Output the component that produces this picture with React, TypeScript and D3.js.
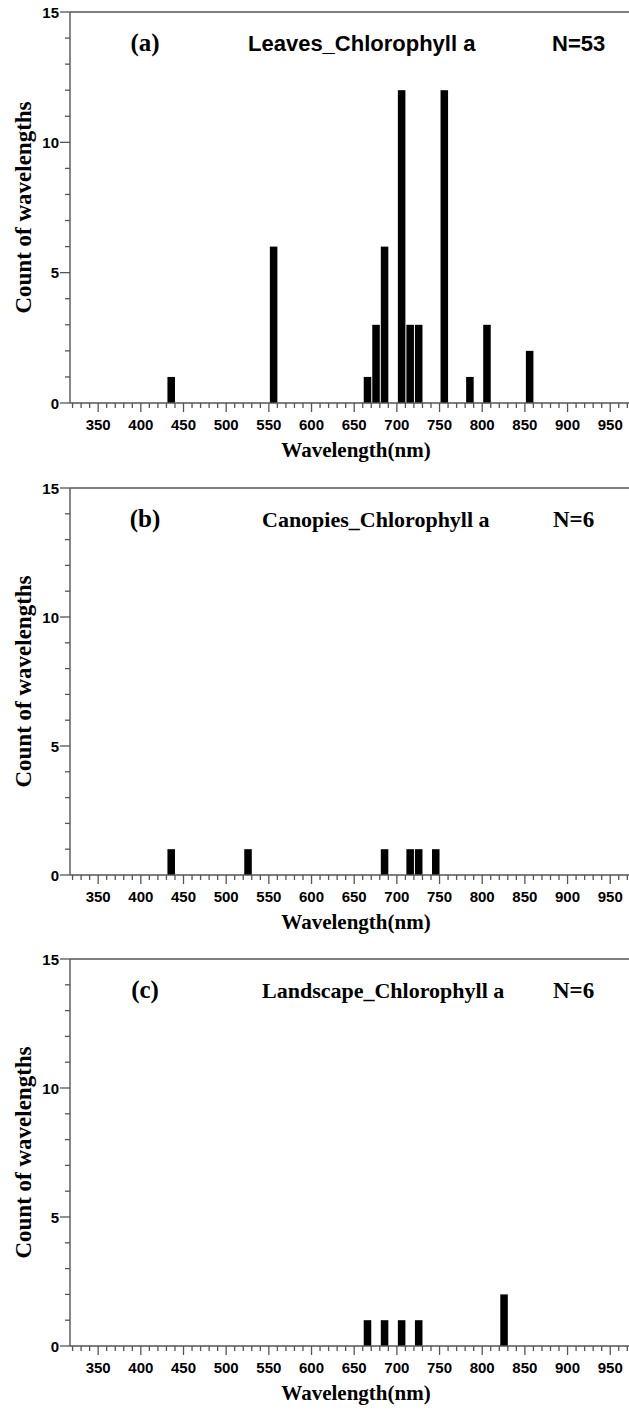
import React from "react";
import * as d3 from "d3";

// Bin start wavelengths (nm) and counts, 10 nm bins
const leavesBins = [430, 550, 660, 670, 680, 700, 710, 720, 750, 780, 800, 850];
const leavesCounts = [1, 6, 1, 3, 6, 12, 3, 3, 12, 1, 3, 2];
const canopiesBins = [430, 520, 680, 710, 720, 740];
const canopiesCounts = [1, 1, 1, 1, 1, 1];
const landscapeBins = [660, 680, 700, 720, 820];
const landscapeCounts = [1, 1, 1, 1, 2];

const xTickLabels = [350, 400, 450, 500, 550, 600, 650, 700, 750, 800, 850, 900, 950];
const yTickLabels = [0, 5, 10, 15];
const panelLetters = ["(a)", "(b)", "(c)"];
const panelTitles = ["Leaves_Chlorophyll a", "Canopies_Chlorophyll a", "Landscape_Chlorophyll a"];
const panelN = ["N=53", "N=6", "N=6"];

const W = 629;
const H = 1410;
const LEFT = 70;
const RIGHT = 629;
const BIN = 10;

const panels = [
  { bins: leavesBins, counts: leavesCounts, top: 12, bottom: 403, sansTitle: true },
  { bins: canopiesBins, counts: canopiesCounts, top: 488, bottom: 875, sansTitle: false },
  { bins: landscapeBins, counts: landscapeCounts, top: 959, bottom: 1346, sansTitle: false },
];

const SANS = "'Liberation Sans', Arial, sans-serif";
const SERIF = "'Liberation Serif', 'Times New Roman', serif";
const AXIS = "#555";

const x = d3.scaleLinear().domain([317, 972]).range([LEFT, RIGHT]);
const minorX = d3.range(320, 972, 10);
const minorY = d3.range(0, 16, 1);

function Panel({ idx }: { idx: number }) {
  const p = panels[idx];
  const y = d3.scaleLinear().domain([0, 15]).range([p.bottom, p.top]);
  const titleY = p.top + 39;
  return (
    <g>
      {/* bars */}
      {p.bins.map((b, i) => (
        <rect
          key={"bar" + i}
          x={x(b) + 1}
          y={y(p.counts[i])}
          width={x(b + BIN) - x(b) - 1}
          height={y(0) - y(p.counts[i])}
          fill="#000"
        />
      ))}
      {/* top border */}
      <line x1={LEFT} x2={RIGHT} y1={y(15)} y2={y(15)} stroke={AXIS} strokeWidth={1.4} />
      {/* y axis */}
      <line x1={LEFT} x2={LEFT} y1={y(0)} y2={y(15)} stroke={AXIS} strokeWidth={1.4} />
      {minorY.map((v) => {
        const major = v % 5 === 0;
        return (
          <line
            key={"yt" + v}
            x1={LEFT - (major ? 10 : 5)}
            x2={LEFT}
            y1={y(v)}
            y2={y(v)}
            stroke={AXIS}
            strokeWidth={1.3}
          />
        );
      })}
      {yTickLabels.map((v) => (
        <text
          key={"yl" + v}
          x={LEFT - 11}
          y={y(v) + 5.5}
          textAnchor="end"
          fontFamily={SANS}
          fontWeight="bold"
          fontSize={15}
          fill="#000"
        >
          {v}
        </text>
      ))}
      {/* x axis */}
      <line x1={LEFT} x2={RIGHT} y1={y(0)} y2={y(0)} stroke={AXIS} strokeWidth={1.4} />
      {minorX.map((v) => {
        const major = v % 50 === 0;
        return (
          <line
            key={"xt" + v}
            x1={x(v)}
            x2={x(v)}
            y1={y(0)}
            y2={y(0) + (major ? 9 : 5)}
            stroke={AXIS}
            strokeWidth={1.3}
          />
        );
      })}
      {xTickLabels.map((v) => (
        <text
          key={"xl" + v}
          x={x(v)}
          y={y(0) + 27}
          textAnchor="middle"
          fontFamily={SANS}
          fontWeight="bold"
          fontSize={15}
          fill="#000"
        >
          {v}
        </text>
      ))}
      <text
        x={356}
        y={y(0) + 54}
        textAnchor="middle"
        fontFamily={SERIF}
        fontWeight="bold"
        fontSize={21}
        fill="#000"
      >
        Wavelength(nm)
      </text>
      {/* y title */}
      <text
        transform={`translate(31,${(p.top + p.bottom) / 2}) rotate(-90)`}
        textAnchor="middle"
        fontFamily={SERIF}
        fontWeight="bold"
        fontSize={23}
        fill="#000"
      >
        Count of wavelengths
      </text>
      {/* panel titles */}
      <text x={145} y={titleY} textAnchor="middle" fontFamily={SERIF} fontWeight="bold" fontSize={25} fill="#000">
        {panelLetters[idx]}
      </text>
      {p.sansTitle ? (
        <>
          <text x={248} y={titleY} fontFamily={SANS} fontWeight="bold" fontSize={22} fill="#000">
            {panelTitles[idx]}
          </text>
          <text x={552} y={titleY} fontFamily={SANS} fontWeight="bold" fontSize={22} fill="#000">
            {panelN[idx]}
          </text>
        </>
      ) : (
        <>
          <text x={262} y={titleY} fontFamily={SERIF} fontWeight="bold" fontSize={22} fill="#000">
            {panelTitles[idx]}
          </text>
          <text x={553} y={titleY} fontFamily={SERIF} fontWeight="bold" fontSize={23} fill="#000">
            {panelN[idx]}
          </text>
        </>
      )}
    </g>
  );
}

export default function App() {
  return (
    <svg
      width={W}
      height={H}
      viewBox={`0 0 ${W} ${H}`}
      style={{ position: "absolute", left: 0, top: 0, background: "#fff" }}
    >
      <rect x={0} y={0} width={W} height={H} fill="#fff" />
      {panels.map((_, i) => (
        <Panel key={i} idx={i} />
      ))}
    </svg>
  );
}
